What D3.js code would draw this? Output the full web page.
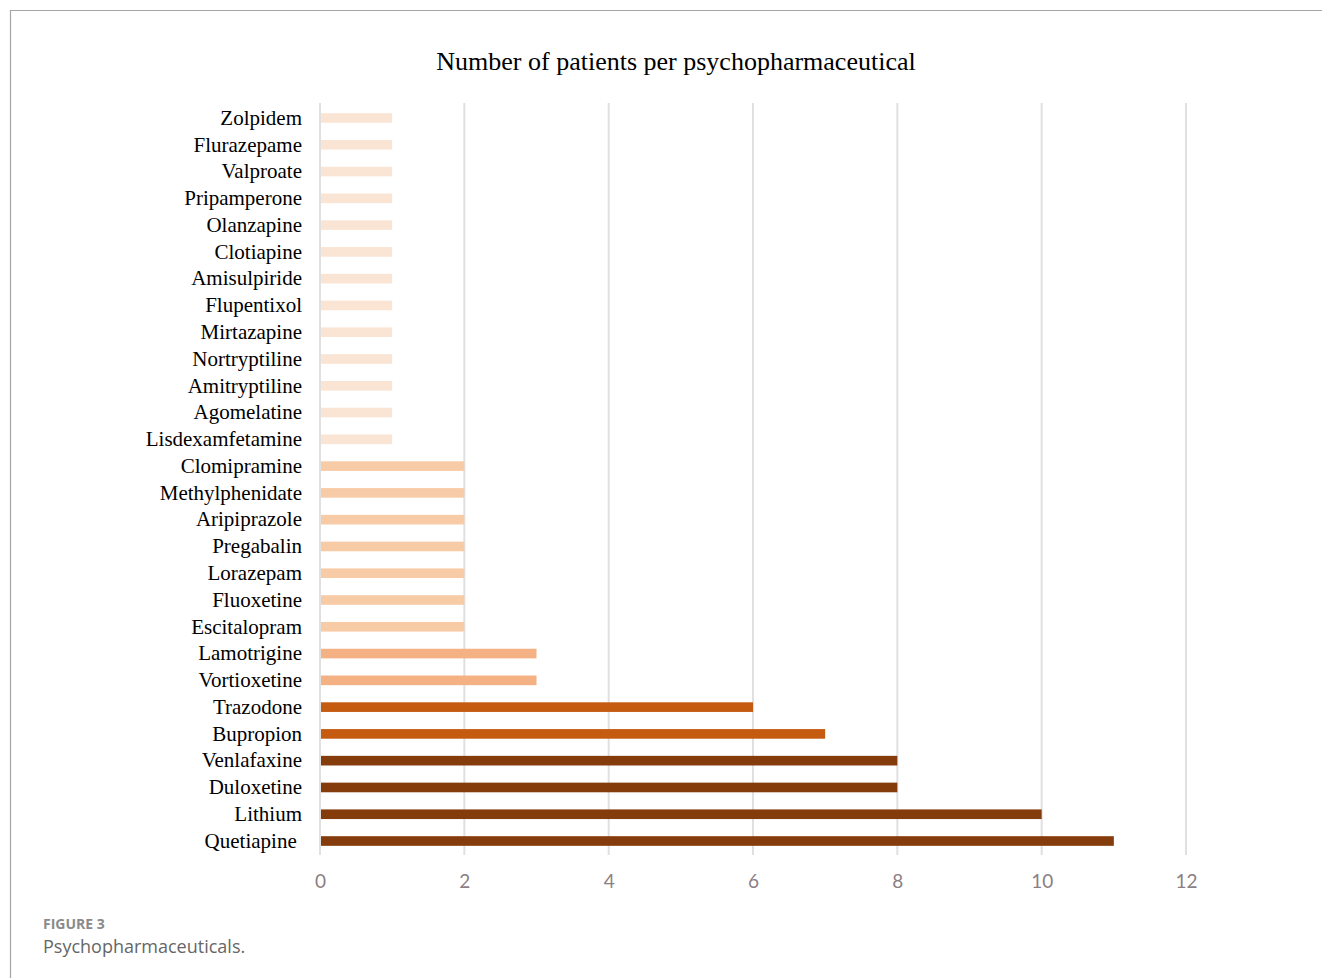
<!DOCTYPE html>
<html>
<head>
<meta charset="utf-8">
<script src="https://cdn.jsdelivr.net/npm/d3@7"></script>
<style>
  body { margin: 0; background: #fff; }
</style>
</head>
<body>
<div id="chart"></div>
<script>
// drugs from top to bottom, as drawn
var drugs = ["Zolpidem", "Flurazepame", "Valproate", "Pripamperone", "Olanzapine", "Clotiapine",
    "Amisulpiride", "Flupentixol", "Mirtazapine", "Nortryptiline", "Amitryptiline", "Agomelatine",
    "Lisdexamfetamine", "Clomipramine", "Methylphenidate", "Aripiprazole", "Pregabalin", "Lorazepam",
    "Fluoxetine", "Escitalopram", "Lamotrigine", "Vortioxetine", "Trazodone", "Bupropion",
    "Venlafaxine", "Duloxetine", "Lithium", "Quetiapine "];
var patients = [1, 1, 1, 1, 1, 1, 1, 1, 1, 1, 1, 1, 1, 2, 2, 2, 2, 2, 2, 2, 3, 3, 6, 7, 8, 8, 10, 11];
var xTicks = [0, 2, 4, 6, 8, 10, 12];

var w = 1322;
var h = 978;

var svg = d3.select("#chart").append("svg").attr("width", w).attr("height", h);

// frame
svg.append("path")
    .attr("d", "M1322,10.5 H10.5 V978")
    .attr("fill", "none")
    .attr("stroke", "#a6a6a6")
    .attr("stroke-width", 1.2);

var xScale = d3.scaleLinear().domain([0, 12]).range([320, 1186]);
var yScale = d3.scaleBand().domain(drugs).range([104.6, 854.4]).paddingInner(0.64).paddingOuter(0.32);

// colour by value
var colour = function(v) {
    if (v <= 1) return "#fae5d5";
    if (v <= 2) return "#f8cba7";
    if (v <= 3) return "#f4b183";
    if (v <= 7) return "#c55a11";
    return "#843c0c";
};

// gridlines
svg.append("g").selectAll("line")
    .data(xTicks)
    .enter()
    .append("line")
    .attr("x1", function(d) { return xScale(d); })
    .attr("x2", function(d) { return xScale(d); })
    .attr("y1", 103)
    .attr("y2", 855)
    .attr("stroke", "#e0e0e0")
    .attr("stroke-width", 2);

// bars
svg.append("g").selectAll("rect")
    .data(drugs)
    .enter()
    .append("rect")
    .attr("x", xScale(0) + 1)
    .attr("y", function(d) { return yScale(d); })
    .attr("width", function(d, i) { return xScale(patients[i]) - xScale(0) - 1; })
    .attr("height", yScale.bandwidth())
    .attr("fill", function(d, i) { return colour(patients[i]); });

// drug labels
var yAxis = d3.axisLeft(yScale).tickSize(0).tickPadding(18);
var yG = svg.append("g").attr("transform", "translate(320,0)").call(yAxis);
yG.select(".domain").remove();
yG.selectAll("text")
    .attr("font-family", "'Liberation Serif', 'DejaVu Serif', serif")
    .attr("font-size", "21px")
    .attr("fill", "#000")
    .style("white-space", "pre")
    .attr("xml:space", "preserve");

// x tick labels
var xAxis = d3.axisBottom(xScale).tickValues(xTicks).tickSize(0).tickPadding(0);
var xG = svg.append("g").attr("transform", "translate(0,874)").call(xAxis);
xG.select(".domain").remove();
xG.selectAll("text")
    .attr("font-family", "Lato, 'Open Sans', sans-serif")
    .attr("font-size", "19px")
    .attr("fill", "#8b7f84");

// title
svg.append("text")
    .attr("x", 676)
    .attr("y", 70)
    .attr("text-anchor", "middle")
    .attr("font-family", "'Liberation Serif', 'DejaVu Serif', serif")
    .attr("font-size", "26px")
    .attr("fill", "#000")
    .text("Number of patients per psychopharmaceutical");

// caption
svg.append("text")
    .attr("x", 43)
    .attr("y", 929)
    .attr("font-family", "'Open Sans', Lato, sans-serif")
    .attr("font-size", "14px")
    .attr("font-weight", "bold")
    .attr("fill", "#8a8a8a")
    .text("FIGURE 3");

svg.append("text")
    .attr("x", 43)
    .attr("y", 953)
    .attr("font-family", "'Open Sans', Lato, sans-serif")
    .attr("font-size", "18px")
    .attr("fill", "#666")
    .text("Psychopharmaceuticals.");
</script>
</body>
</html>
